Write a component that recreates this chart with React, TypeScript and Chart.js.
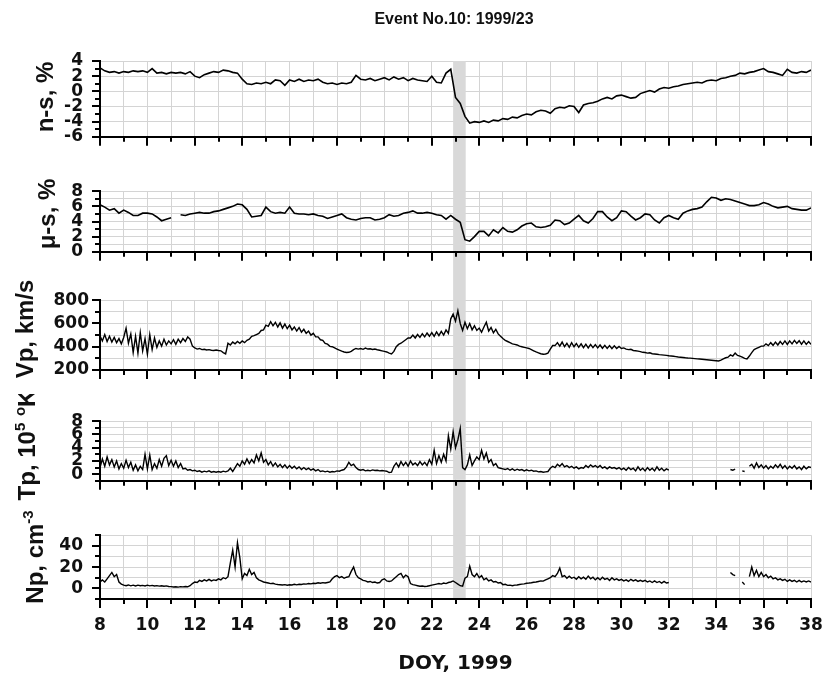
import React, { useEffect, useRef } from 'react';
import { Chart, registerables } from 'chart.js';

Chart.register(...registerables);

// ---------- categories (DOY) ----------
const daysCoarse: number[] = [];
for (let i = 0; i <= 150; i++) daysCoarse.push(Math.round((8 + i * 0.2) * 10) / 10);
const daysFine: number[] = [];
for (let i = 0; i <= 300; i++) daysFine.push(Math.round((8 + i * 0.1) * 10) / 10);

const xMin = 8;
const xMax = 38;
const eventBand = [22.9, 23.43];

// ---------- series values ----------
// n-s, %  (step 0.2 day)
const nsValues: (number | null)[] = [
  3.1, 2.7, 2.5, 2.6, 2.4, // 8
  2.6, 2.5, 2.7, 2.6, 2.7, // 9
  2.5, 3.0, 2.4, 2.5, 2.3, // 10
  2.5, 2.4, 2.5, 2.3, 2.6, // 11
  2.0, 1.8, 2.2, 2.4, 2.6, // 12
  2.5, 2.8, 2.7, 2.5, 2.4, // 13
  1.6, 1.0, 0.9, 1.1, 1.0, // 14
  1.2, 1.0, 1.5, 1.4, 0.8, // 15
  1.5, 1.3, 1.6, 1.3, 1.5, // 16
  1.4, 1.6, 1.2, 1.0, 1.1, // 17
  0.9, 1.1, 1.0, 1.2, 2.1, // 18
  1.6, 1.5, 1.7, 1.4, 1.6, // 19
  1.8, 1.5, 1.9, 1.6, 1.8, // 20
  1.4, 1.7, 1.5, 1.4, 1.3, // 21
  2.0, 1.2, 1.1, 2.4, 2.9, // 22
  -0.8, -1.6, -3.3, -4.2, -4.0, // 23
  -4.1, -3.9, -4.1, -3.8, -3.9, // 24
  -3.6, -3.7, -3.4, -3.5, -3.2, // 25
  -3.0, -3.1, -2.7, -2.5, -2.6, // 26
  -2.9, -2.3, -2.1, -2.2, -1.9, // 27
  -2.0, -2.8, -1.8, -1.6, -1.5, // 28
  -1.3, -1.0, -0.8, -1.0, -0.6, // 29
  -0.5, -0.7, -0.9, -0.8, -0.3, // 30
  -0.1, 0.1, -0.1, 0.3, 0.5, // 31
  0.4, 0.6, 0.7, 0.9, 1.0, // 32
  1.1, 1.2, 1.1, 1.4, 1.5, // 33
  1.4, 1.7, 1.8, 2.0, 2.1, // 34
  2.4, 2.3, 2.5, 2.6, 2.8, // 35
  3.0, 2.6, 2.5, 2.3, 2.1, // 36
  2.9, 2.5, 2.4, 2.6, 2.5, // 37
  2.8, // 38
];

// mu-s, %  (step 0.2 day)
const muValues: (number | null)[] = [
  6.2, 5.9, 5.5, 5.7, 5.1, // 8
  5.5, 5.2, 4.8, 4.8, 5.1, // 9
  5.1, 5.0, 4.6, 4.1, 4.3, // 10
  4.5, null, 4.9, 4.8, 5.0, // 11
  5.1, 5.2, 5.1, 5.1, 5.3, // 12
  5.4, 5.6, 5.8, 6.0, 6.3, // 13
  6.2, 5.6, 4.6, 4.7, 4.8, // 14
  5.9, 5.3, 5.1, 5.2, 5.1, // 15
  5.9, 5.1, 5.0, 5.0, 4.9, // 16
  5.0, 4.8, 4.7, 4.4, 4.6, // 17
  4.8, 5.0, 4.5, 4.3, 4.2, // 18
  4.4, 4.5, 4.5, 4.2, 4.3, // 19
  4.5, 4.9, 4.7, 4.8, 5.1, // 20
  5.2, 5.4, 5.1, 5.1, 5.2, // 21
  5.1, 4.9, 4.8, 4.3, 4.8, // 22
  4.3, 3.9, 1.6, 1.4, 2.0, // 23
  2.7, 2.7, 2.1, 2.9, 2.5, // 24
  3.2, 2.7, 2.6, 2.9, 3.4, // 25
  3.7, 3.8, 3.3, 3.2, 3.3, // 26
  3.5, 4.2, 4.1, 3.6, 3.8, // 27
  4.3, 4.8, 4.1, 3.8, 4.4, // 28
  5.3, 5.3, 4.6, 4.1, 4.5, // 29
  5.4, 5.3, 4.7, 4.2, 4.5, // 30
  5.0, 4.9, 4.2, 3.8, 4.5, // 31
  4.8, 4.5, 4.3, 5.1, 5.4, // 32
  5.6, 5.7, 5.9, 6.6, 7.2, // 33
  7.1, 6.8, 7.0, 6.9, 6.7, // 34
  6.5, 6.3, 6.1, 6.1, 6.2, // 35
  6.5, 6.3, 6.0, 5.8, 5.9, // 36
  6.0, 5.7, 5.6, 5.5, 5.5, // 37
  5.8, // 38
];

// Vp, km/s (step 0.1 day)
const vpValues: (number | null)[] = [
  495, 450, 505, 445, 490, 440, 480, 435, 470, 425, // 8
  480, 560, 430, 510, 350, 490, 345, 520, 365, 470, // 9
  335, 505, 375, 475, 395, 450, 405, 465, 415, 450, // 10
  425, 460, 420, 465, 435, 470, 445, 485, 465, 405, // 11
  390, 380, 385, 375, 378, 372, 375, 370, 368, 372, // 12
  368, 365, 350, 338, 430, 415, 440, 425, 445, 430, // 13
  450, 435, 455, 465, 490, 495, 505, 515, 540, 545, // 14
  585, 575, 615, 580, 610, 570, 605, 560, 595, 555, // 15
  585, 545, 570, 535, 565, 525, 550, 515, 535, 500, // 16
  515, 485, 485, 460, 455, 428, 422, 403, 400, 390, // 17
  380, 370, 362, 355, 350, 352, 360, 375, 385, 380, // 18
  385, 378, 388, 380, 382, 376, 380, 374, 370, 365, // 19
  360, 355, 345, 338, 360, 400, 420, 430, 445, 460, // 20
  475, 475, 500, 475, 505, 480, 512, 485, 518, 490, // 21
  522, 490, 528, 495, 532, 500, 545, 515, 640, 680, // 22
  620, 710, 600, 540, 610, 555, 600, 545, 580, 540, // 23
  560, 525, 570, 610, 535, 565, 520, 550, 510, 490, // 24
  470, 455, 445, 435, 425, 420, 415, 405, 400, 395, // 25
  390, 385, 375, 365, 355, 348, 340, 335, 338, 345, // 26
  380, 410, 410, 435, 405, 440, 400, 430, 395, 435, // 27
  400, 428, 395, 425, 392, 422, 390, 420, 392, 418, // 28
  390, 415, 387, 412, 385, 410, 383, 408, 385, 402, // 29
  385, 390, 380, 375, 378, 368, 365, 362, 358, 352, // 30
  350, 345, 348, 340, 338, 335, 332, 330, 328, 326, // 31
  322, 320, 318, 315, 312, 310, 308, 305, 303, 302, // 32
  300, 298, 296, 294, 292, 290, 288, 286, 284, 282, // 33
  280, 278, 285, 295, 305, 310, 330, 320, 345, 325, // 34
  320, 310, 300, 295, 320, 350, 375, 385, 395, 405, // 35
  405, 425, 410, 435, 412, 440, 415, 445, 420, 450, // 36
  420, 450, 425, 455, 428, 452, 422, 450, 420, 445, // 37
  420, // 38
];

// Tp, 10^5 K (step 0.1 day)
const tpValues: (number | null)[] = [
  1.0, 2.3, 1.2, 2.6, 1.4, 2.2, 1.1, 2.0, 0.8, 1.6, // 8
  0.9, 2.1, 1.0, 1.8, 0.6, 1.4, 0.5, 1.2, 0.7, 3.0, // 9
  0.8, 2.9, 0.7, 1.6, 0.9, 2.2, 1.2, 2.4, 2.8, 1.3, // 10
  2.1, 1.2, 2.0, 1.0, 1.6, 0.8, 0.9, 0.6, 0.7, 0.5, // 11
  0.6, 0.4, 0.5, 0.3, 0.45, 0.35, 0.5, 0.3, 0.4, 0.3, // 12
  0.4, 0.3, 0.45, 0.35, 0.5, 0.9, 0.4, 1.0, 1.6, 1.2, // 13
  2.0, 1.5, 2.3, 1.6, 2.2, 1.7, 2.9, 2.0, 3.2, 1.8, // 14
  2.2, 1.4, 1.9, 1.2, 1.7, 1.1, 1.5, 1.0, 1.4, 0.9, // 15
  1.3, 0.9, 1.2, 0.8, 1.1, 0.7, 1.0, 0.7, 0.9, 0.6, // 16
  0.8, 0.5, 0.7, 0.4, 0.5, 0.35, 0.45, 0.3, 0.4, 0.35, // 17
  0.5, 0.45, 0.6, 0.7, 1.1, 1.8, 1.3, 1.5, 1.0, 0.7, // 18
  0.6, 0.7, 0.5, 0.6, 0.5, 0.65, 0.55, 0.6, 0.5, 0.55, // 19
  0.5, 0.45, 0.25, 0.3, 1.2, 1.7, 1.1, 1.9, 1.3, 1.8, // 20
  1.2, 2.0, 1.4, 1.7, 1.3, 1.9, 1.4, 1.8, 1.3, 2.2, // 21
  1.5, 3.6, 1.6, 2.8, 1.8, 3.0, 2.0, 5.8, 3.8, 6.4, // 22
  4.0, 5.2, 6.9, 1.0, 0.7, 1.4, 2.9, 1.3, 2.0, 2.6, // 23
  2.2, 3.6, 2.3, 3.2, 1.8, 2.2, 1.3, 1.6, 1.0, 0.9, // 24
  0.8, 0.7, 0.85, 0.6, 0.8, 0.55, 0.75, 0.6, 0.7, 0.5, // 25
  0.65, 0.5, 0.6, 0.45, 0.5, 0.35, 0.4, 0.3, 0.35, 0.4, // 26
  0.9, 1.2, 1.0, 1.5, 1.2, 1.6, 1.1, 1.3, 1.0, 1.2, // 27
  0.9, 1.1, 0.8, 1.0, 0.9, 1.3, 1.0, 1.4, 1.1, 1.3, // 28
  1.0, 1.3, 0.9, 1.1, 0.8, 1.1, 0.9, 1.0, 0.8, 1.0, // 29
  0.7, 0.9, 0.6, 1.0, 0.7, 0.9, 0.5, 1.1, 0.6, 0.9, // 30
  0.5, 1.0, 0.6, 0.9, 0.5, 1.1, 0.6, 0.9, 0.5, 0.8, // 31
  0.6, null, null, null, null, null, null, null, null, null, // 32
  null, null, null, null, null, null, null, null, null, null, // 33
  null, null, null, null, null, null, 0.7, 0.6, 0.75, null, // 34
  null, 0.5, 0.4, null, 1.2, 1.5, 0.9, 1.7, 1.0, 1.4, // 35
  0.9, 1.3, 0.8, 1.2, 0.9, 1.4, 1.0, 1.5, 0.9, 1.3, // 36
  0.8, 1.2, 0.9, 1.3, 0.8, 1.1, 0.7, 1.2, 0.8, 1.1, // 37
  1.0, // 38
];

// Np, cm^-3 (step 0.1 day)
const npValues: (number | null)[] = [
  6, 8, 6, 9, 12, 15, 11, 13, 6, 4, // 8
  3, 2.5, 3.2, 2.4, 3, 2.2, 3, 2.5, 2.8, 2.3, // 9
  3, 2.4, 2.8, 2.2, 2.6, 2.1, 2.5, 2, 2.3, 1.8, // 10
  1.6, 1.3, 1.5, 1.2, 1.6, 1.4, 1.7, 1.5, 2.5, 4.5, // 11
  6, 5.5, 7.5, 6.5, 8, 7, 8.5, 7, 8, 7.5, // 12
  9, 8, 10, 9, 11, 24, 36, 20, 43, 29, // 13
  9, 14, 12, 18, 13, 15, 10, 8, 7, 6, // 14
  5.5, 5, 4.5, 4.8, 4, 3.6, 3.4, 3.2, 3.5, 3, // 15
  3.4, 3.2, 3.8, 3.3, 3.9, 3.6, 4.2, 4, 4.5, 4.2, // 16
  4.8, 4.6, 5.2, 4.8, 5.4, 5, 5.5, 6, 9, 11, // 17
  12, 10, 11, 9.5, 10.5, 11, 16, 20, 13, 10, // 18
  9, 7.5, 7, 6, 6.5, 5.5, 6, 5, 5.5, 8, // 19
  9, 7, 6.5, 7, 9, 11, 13, 14, 10, 12.5, // 20
  11, 4.5, 3.5, 3, 2.5, 2, 2.2, 1.8, 2, 2.5, // 21
  3, 3.5, 4, 4.5, 4, 5, 4.5, 5.5, 6, 7, // 22
  5.5, 4, 2.5, 2, 9.5, 11, 21, 13, 11, 14, // 23
  10, 12, 8, 9.5, 7, 8, 6, 6.5, 5, 5.5, // 24
  3.5, 3.8, 2.8, 3, 2.5, 3, 3.2, 3.6, 4, 4.2, // 25
  4.8, 5, 5.3, 5.8, 6, 6.5, 7, 6.8, 8, 9, // 26
  10, 12, 11, 14, 19, 11, 12, 9.5, 11.5, 9.5, // 27
  10.5, 8.5, 11, 9, 10.5, 8.5, 11.5, 9, 10.5, 8, // 28
  10, 8, 10.5, 8.5, 9.5, 7.5, 10, 8, 9, 7.5, // 29
  8.5, 7, 8, 6.5, 8.5, 7, 8, 6.5, 7.5, 6.5, // 30
  7.5, 6, 7, 5.5, 7, 5.5, 6.5, 5, 6.5, 5, // 31
  5.5, null, null, null, null, null, null, null, null, null, // 32
  null, null, null, null, null, null, null, null, null, null, // 33
  null, null, null, null, null, null, 15, 13, 12, null, // 34
  null, 6, 3.5, null, 11, 20, 12, 17, 11, 15, // 35
  11, 13, 10, 11.5, 9, 10, 8, 9, 7.5, 8.5, // 36
  6.5, 8, 6.5, 7.5, 6, 7.5, 6, 7, 6, 7, // 37
  6, // 38
];

// ---------- text ----------
const chartTitle = 'Event No.10: 1999/23';
const xAxisTitle = 'DOY, 1999';
type Part = { t: string; sup?: boolean };
const nsTitle: Part[] = [{ t: 'n-s, %' }];
const muTitle: Part[] = [{ t: 'μ-s, %' }];
const vpTitle: Part[] = [{ t: 'Vp, km/s' }];
const tpTitle: Part[] = [{ t: 'Tp, 10' }, { t: '5', sup: true }, { t: ' ' }, { t: 'o', sup: true }, { t: 'K' }];
const npTitle: Part[] = [{ t: 'Np, cm' }, { t: '-3', sup: true }];

// ---------- layout ----------
const W = 825;
const frames = [
  { top: 0, h: 164, plotTop: 61, plotBottom: 140 },
  { top: 164, h: 115, plotTop: 176, plotBottom: 255 },
  { top: 279, h: 115, plotTop: 291, plotBottom: 370 },
  { top: 394, h: 114, plotTop: 406, plotBottom: 485 },
  { top: 508, h: 173, plotTop: 520, plotBottom: 599 },
];

const panels = [
  { values: nsValues, days: daysCoarse, min: -6, max: 4, step: 1, major: 2, grid: 2, labelPad: 17, title: nsTitle, titleX: 44, titleY: 97 },
  { values: muValues, days: daysCoarse, min: 0, max: 8, step: 1, major: 2, grid: 1, labelPad: 17, title: muTitle, titleX: 46, titleY: 214 },
  { values: vpValues, days: daysFine, min: 200, max: 800, step: 100, major: 200, grid: 100, labelPad: 11, title: vpTitle, titleX: 24, titleY: 329 },
  { values: tpValues, days: daysFine, min: -1, max: 8, step: 1, major: 2, grid: 1, labelPad: 17, title: tpTitle, titleX: 26, titleY: 445 },
  { values: npValues, days: daysFine, min: -10, max: 50, step: 10, major: 20, grid: 10, labelPad: 17, title: npTitle, titleX: 34, titleY: 557 },
];

const GRID = '#d4d4d4';
const BAND = '#d9d9d9';
const INK = '#111';
const tickFont = { family: '"DejaVu Sans"', weight: 'bold' as const, size: 17 };

function makeChart(canvas: HTMLCanvasElement, idx: number) {
  const p = panels[idx];
  const f = frames[idx];
  const last = idx === panels.length - 1;
  const padTop = f.plotTop - f.top;
  const below = f.top + f.h - f.plotBottom;

  const bandPlugin = {
    id: 'eventBand',
    beforeDraw(chart: any) {
      const { ctx, chartArea, height } = chart;
      const xs = chart.scales.x;
      const x0 = xs.getPixelForValue(eventBand[0]);
      const x1 = xs.getPixelForValue(eventBand[1]);
      ctx.save();
      ctx.fillStyle = BAND;
      if (idx > 0) ctx.fillRect(x0, 0, x1 - x0, chartArea.top);
      if (!last) ctx.fillRect(x0, chartArea.bottom, x1 - x0, height - chartArea.bottom);
      ctx.restore();
    },
    beforeDatasetsDraw(chart: any) {
      const { ctx, chartArea } = chart;
      const xs = chart.scales.x;
      const x0 = xs.getPixelForValue(eventBand[0]);
      const x1 = xs.getPixelForValue(eventBand[1]);
      ctx.save();
      ctx.fillStyle = BAND;
      ctx.fillRect(x0, chartArea.top, x1 - x0, chartArea.bottom - chartArea.top - 1);
      ctx.restore();
    },
  };

  const decorPlugin = {
    id: 'decor',
    afterDraw(chart: any) {
      const { ctx, chartArea } = chart;
      const xs = chart.scales.x;
      const ys = chart.scales.y;
      ctx.save();
      ctx.strokeStyle = '#000';
      ctx.lineWidth = 2;
      ctx.beginPath();
      for (const t of ys.ticks) {
        const py = Math.round(ys.getPixelForValue(t.value));
        const len = Math.abs(t.value % p.major) < 1e-9 ? 8 : 5;
        ctx.moveTo(chartArea.left - len, py);
        ctx.lineTo(chartArea.left, py);
      }
      for (const t of xs.ticks) {
        const px = Math.round(xs.getPixelForValue(t.value));
        const len = Math.abs(t.value % 2) < 1e-9 ? 9 : 5;
        ctx.moveTo(px, chartArea.bottom);
        ctx.lineTo(px, chartArea.bottom + len);
      }
      ctx.stroke();

      // y-axis title (rotated, with superscripts)
      const mainFont = 'bold 24px "Liberation Sans"';
      const supFont = 'bold 15px "Liberation Sans"';
      ctx.fillStyle = INK;
      ctx.translate(p.titleX, p.titleY - f.top);
      ctx.rotate(-Math.PI / 2);
      let total = 0;
      for (const part of p.title) {
        ctx.font = part.sup ? supFont : mainFont;
        total += ctx.measureText(part.t).width;
      }
      let x = -total / 2;
      ctx.textBaseline = 'alphabetic';
      ctx.textAlign = 'left';
      const base = 8.6;
      for (const part of p.title) {
        ctx.font = part.sup ? supFont : mainFont;
        ctx.fillText(part.t, x, part.sup ? base - 10 : base);
        x += ctx.measureText(part.t).width;
      }
      ctx.restore();

      if (idx === 0) {
        ctx.save();
        ctx.fillStyle = INK;
        ctx.font = 'bold 16px "Liberation Sans"';
        ctx.textAlign = 'center';
        ctx.textBaseline = 'middle';
        ctx.fillText(chartTitle, 454, 20);
        ctx.restore();
      }
    },
  };

  return new Chart(canvas, {
    type: 'line',
    data: {
      datasets: [
        {
          data: p.days.map((d, j) => ({ x: d, y: p.values[j] })),
          borderColor: '#000',
          borderWidth: idx < 2 ? 1.6 : 1.4,
          pointRadius: 0,
          tension: 0,
          spanGaps: false,
          fill: false,
        },
      ],
    },
    options: {
      responsive: false,
      animation: false,
      events: [],
      layout: { padding: { top: padTop, bottom: last ? 0 : below, left: 0, right: 14 } },
      plugins: { legend: { display: false }, tooltip: { enabled: false }, title: { display: false } },
      scales: {
        x: {
          type: 'linear',
          min: xMin,
          max: xMax,
          ticks: {
            stepSize: 1,
            autoSkip: false,
            maxRotation: 0,
            minRotation: 0,
            display: last,
            padding: 16,
            color: INK,
            font: tickFont,
            callback: (v: any) => (Math.abs(Number(v) % 2) < 1e-9 ? String(v) : ''),
          },
          grid: { color: GRID, lineWidth: 1, drawTicks: false },
          border: { display: true, color: '#000', width: 2 },
          title: last
            ? { display: true, text: xAxisTitle, color: INK, font: { family: '"DejaVu Sans"', weight: 'bold', size: 20 }, padding: { top: 0, bottom: 5 } }
            : { display: false },
          afterFit: (s: any) => {
            s.height = last ? below : 0;
            s.paddingLeft = 0;
            s.paddingRight = 0;
          },
        },
        y: {
          type: 'linear',
          min: p.min,
          max: p.max,
          ticks: {
            stepSize: p.step,
            autoSkip: false,
            padding: p.labelPad,
            color: INK,
            font: tickFont,
            callback: (v: any) => (Math.abs(Number(v) % p.major) < 1e-9 ? String(v) : ''),
          },
          grid: {
            color: (c: any) => (c.tick && Math.abs(c.tick.value % p.grid) < 1e-9 ? GRID : 'rgba(0,0,0,0)'),
            lineWidth: 1,
            drawTicks: false,
          },
          border: { display: true, color: '#000', width: 2 },
          afterFit: (s: any) => {
            s.width = 100;
          },
        },
      },
    } as any,
    plugins: [bandPlugin, decorPlugin],
  });
}

export default function App() {
  const refs = useRef<(HTMLCanvasElement | null)[]>([]);
  useEffect(() => {
    const charts = frames.map((_, i) => makeChart(refs.current[i] as HTMLCanvasElement, i));
    return () => charts.forEach((c) => c.destroy());
  }, []);
  return (
    <div style={{ position: 'absolute', left: 0, top: 0, width: W, height: 681, background: '#fff' }}>
      {frames.map((f, i) => (
        <canvas
          key={i}
          ref={(el) => {
            refs.current[i] = el;
          }}
          width={W}
          height={f.h}
          style={{ position: 'absolute', left: 0, top: f.top, width: W, height: f.h, display: 'block' }}
        />
      ))}
    </div>
  );
}
